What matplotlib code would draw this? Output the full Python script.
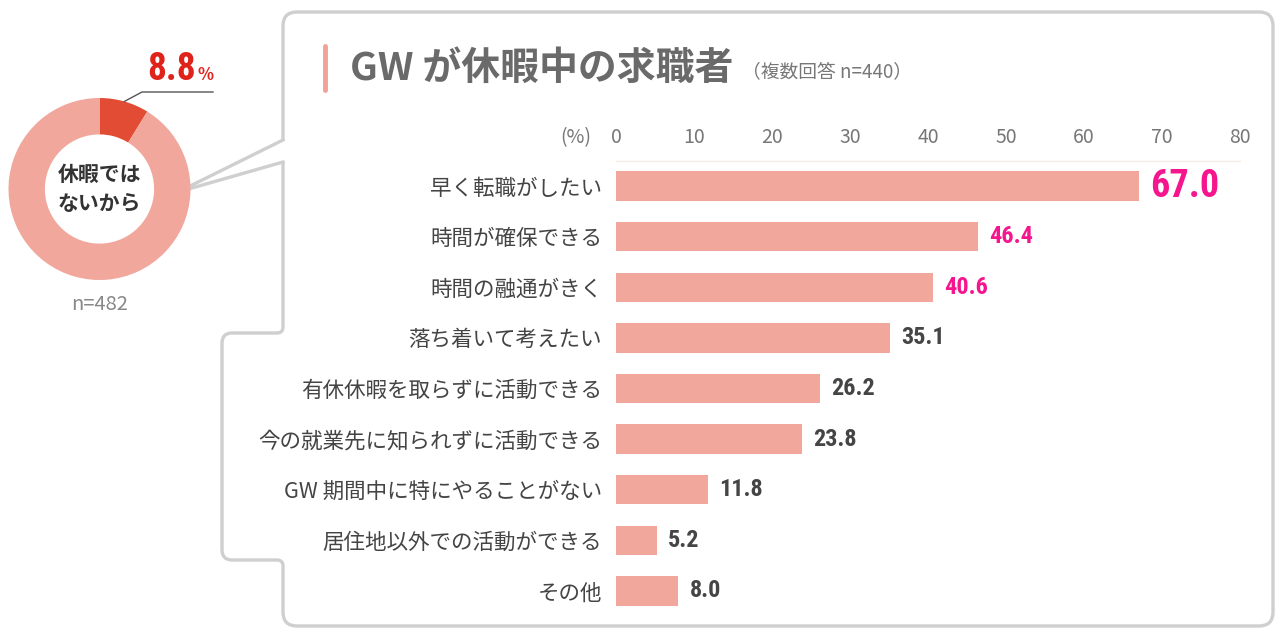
import numpy as np
import matplotlib
matplotlib.use("Agg")
import matplotlib.pyplot as plt
from matplotlib.path import Path
from matplotlib.patches import PathPatch

plt.rcParams['font.family'] = ['Noto Sans CJK JP', 'DejaVu Sans']
NARROW = ['Roboto Condensed', 'Liberation Sans Narrow', 'Roboto', 'DejaVu Sans']

# データ
categories = ["早く転職がしたい", "時間が確保できる", "時間の融通がきく", "落ち着いて考えたい",
              "有休休暇を取らずに活動できる", "今の就業先に知られずに活動できる",
              "GW 期間中に特にやることがない", "居住地以外での活動ができる", "その他"]
values = [67.0, 46.4, 40.6, 35.1, 26.2, 23.8, 11.8, 5.2, 8.0]
highlight = [True, True, True, False, False, False, False, False, False]
x_ticks = [0, 10, 20, 30, 40, 50, 60, 70, 80]

donut_labels = ["休暇ではないから", "その他"]
donut_values = [8.8, 91.2]

title = "GW が休暇中の求職者"
subtitle = "（複数回答 n=440）"
n_total = "n=482"

# 色
BAR = '#f1a79b'
RED = '#e24c35'
MAGENTA = '#f5168e'
DARK = '#454545'
FRAME = '#cfcfcf'

W, H = 1277, 630
fig = plt.figure(figsize=(W / 100, H / 100), dpi=100)

# 背景用の軸（ピクセル座標）
bg = fig.add_axes([0, 0, 1, 1])
bg.set_xlim(0, W)
bg.set_ylim(H, 0)
bg.axis('off')


def rounded_path(pts, radii):
    verts = [pts[0]]
    codes = [Path.MOVETO]
    for i in range(1, len(pts) - 1):
        p0, p1, p2 = map(np.array, (pts[i - 1], pts[i], pts[i + 1]))
        r = radii[i - 1]
        d1 = (p1 - p0) / np.linalg.norm(p1 - p0)
        d2 = (p2 - p1) / np.linalg.norm(p2 - p1)
        verts += [tuple(p1 - d1 * r), tuple(p1), tuple(p1 + d2 * r)]
        codes += [Path.LINETO, Path.CURVE3, Path.CURVE3]
    verts.append(pts[-1])
    codes.append(Path.LINETO)
    return Path(verts, codes)


frame_pts = [(283, 162), (283, 333), (222, 333), (222, 560), (283, 560),
             (283, 626), (1273, 626), (1273, 12), (283, 12), (283, 140)]
frame_r = [6, 10, 10, 6, 14, 14, 14, 14]
bg.add_patch(PathPatch(rounded_path(frame_pts, frame_r), fill=False,
                       edgecolor=FRAME, lw=2.4))
bg.plot([283, 178, 283], [140, 192, 162], color=FRAME, lw=2.4,
        solid_joinstyle='miter')

# タイトル
bg.plot([325, 325], [46, 90], color='#f2a196', lw=3.5, solid_capstyle='round')
bg.text(350, 68, title, fontsize=28, fontweight='bold', color='#6a6a6a',
        va='center', ha='left')
bg.text(742, 72, subtitle, fontsize=13.5, color='#777777', va='center', ha='left')
bg.text(576, 138, "(%)", fontsize=14, color='#777777', va='center', ha='center')

# 8.8% 表示
bg.text(147, 80, f"{donut_values[0]}", fontsize=27, fontweight='bold', color='#e0231a',
        family=NARROW, va='baseline', ha='left')
bg.text(197, 80, "%", fontsize=12, fontweight='bold', color='#e0231a',
        va='baseline', ha='left')
bg.text(100, 304, n_total, fontsize=14.5, color='#888888', va='center', ha='center')

# ドーナツ
cx, cy, rad = 99.5, 189, 91
axp = fig.add_axes([(cx - rad) / W, 1 - (cy + rad) / H, 2 * rad / W, 2 * rad / H])
axp.pie(donut_values, colors=[RED, BAR], startangle=90, counterclock=False,
        wedgeprops=dict(width=0.4, edgecolor='none'))
axp.set_xlim(-1, 1)
axp.set_ylim(-1, 1)
axp.set_aspect('auto')
axp.text(0, 0, "休暇では\nないから", fontsize=15, fontweight='bold', color='#333333',
         ha='center', va='center', linespacing=1.45)
mid = np.deg2rad(90 - donut_values[0] / sum(donut_values) * 360 / 2)
axp.plot([np.cos(mid), (142 - cx) / rad, (213 - cx) / rad],
         [np.sin(mid), (cy - 92) / rad, (cy - 92) / rad],
         color='#555555', lw=1, clip_on=False)

# 棒グラフ
top, bottom = 160.7, 616.3
ax = fig.add_axes([616 / W, 1 - bottom / H, 624 / W, (bottom - top) / H])
y = np.arange(len(values))
ax.barh(y, values, height=0.58, color=BAR)
ax.set_xlim(0, 80)
ax.set_ylim(len(values) - 0.5, -0.5)
ax.xaxis.tick_top()
ax.set_xticks(x_ticks)
ax.set_xticklabels([str(t) for t in x_ticks])
ax.set_yticks(y)
ax.set_yticklabels(categories)
ax.tick_params(axis='x', length=0, pad=9, labelsize=14, labelcolor='#777777')
ax.tick_params(axis='y', length=0, pad=10, labelsize=15.5, labelcolor='#444444')
for s in ['left', 'right', 'bottom']:
    ax.spines[s].set_visible(False)
ax.spines['top'].set_color('#f5ece8')
ax.spines['top'].set_linewidth(1)
ax.set_facecolor('none')

for i, (v, hl) in enumerate(zip(values, highlight)):
    if i == 0:
        size, col = 27.5, MAGENTA
    elif hl:
        size, col = 17.5, MAGENTA
    else:
        size, col = 17.5, DARK
    ax.annotate(f"{v:.1f}", xy=(v, i), xytext=(8, 0), textcoords='offset points',
                va='center', ha='left', fontsize=size, fontweight='bold',
                color=col, family=NARROW)

fig.savefig('out.png', dpi=100)
